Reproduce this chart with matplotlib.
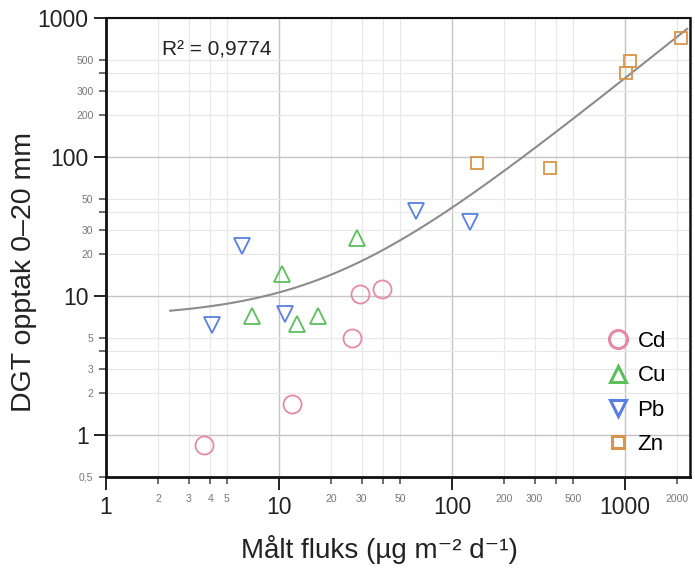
import numpy as np
import matplotlib
matplotlib.use("Agg")
import matplotlib.pyplot as plt
from matplotlib.ticker import FixedLocator, FuncFormatter

plt.rcParams['font.family'] = ['Liberation Sans', 'DejaVu Sans']

# measured flux (x) and DGT uptake (y) per metal
cd_x = [3.7, 11.9, 26.4, 29.4, 39.4]
cd_y = [0.85, 1.67, 5.0, 10.3, 11.2]
cu_x = [10.4, 7.0, 12.7, 16.8, 28.2]
cu_y = [14.4, 7.2, 6.3, 7.2, 26.1]
pb_x = [6.1, 4.1, 10.8, 61.9, 127]
pb_y = [22.9, 6.2, 7.4, 40.9, 34.1]
zn_x = [140, 368, 1013, 1069, 2108]
zn_y = [90.5, 83.4, 402, 491, 718]

r2_text = "R² = 0,9774"

major_ticks = [1, 10, 100, 1000]
minor_ticks = [v * 10.0 ** e for e in range(-1, 4) for v in (2, 3, 4, 5)]
x_small = [2, 3, 4, 5, 20, 30, 50, 200, 300, 500, 2000]
y_small = [0.5, 2, 3, 5, 20, 30, 50, 200, 300, 500]

# linear trend line (y = a + b*x) through all points
all_x = np.array(cd_x + cu_x + pb_x + zn_x)
all_y = np.array(cd_y + cu_y + pb_y + zn_y)
b, a = np.polyfit(all_x, all_y, 1)

fig = plt.figure(figsize=(6.95, 5.7), dpi=100)
ax = fig.add_axes([0.1525, 0.1632, 0.8403, 0.8052])
ax.set_xscale('log')
ax.set_yscale('log')
ax.set_xlim(1, 2375)
ax.set_ylim(0.5, 1000)

ax.grid(True, which='major', color='#c4c4c4', lw=1.0)
ax.grid(True, which='minor', color='#e8e8e8', lw=0.9)
ax.set_axisbelow(True)

fx = np.geomspace(2.35, 2290, 200)
ax.plot(fx, a + b * fx, color='#8c8c8c', lw=1.5, zorder=2)

ax.plot(cd_x, cd_y, 'o', ms=13, mfc='none', mec='#e48aa8', mew=1.3, label='Cd', zorder=3)
ax.plot(cu_x, cu_y, '^', ms=12, mfc='none', mec='#5cbf5c', mew=1.3, label='Cu', zorder=3)
ax.plot(pb_x, pb_y, 'v', ms=12, mfc='none', mec='#5b7fe0', mew=1.3, label='Pb', zorder=3)
ax.plot(zn_x, zn_y, 's', ms=9, mfc='none', mec='#d9954a', mew=1.3, label='Zn', zorder=3)

ax.text(0.096, 0.931, r2_text, transform=ax.transAxes, fontsize=15, color='#222222',
        va='center', ha='left')

# ticks
for axis, small in ((ax.xaxis, x_small), (ax.yaxis, y_small)):
    axis.set_major_locator(FixedLocator(major_ticks))
    axis.set_minor_locator(FixedLocator(minor_ticks))
    axis.set_major_formatter(FuncFormatter(lambda v, p: '%g' % v))
    axis.set_minor_formatter(FuncFormatter(
        lambda v, p, s=small: ('%g' % v).replace('.', ',') if any(abs(v - t) < 1e-6 * t for t in s) else ''))
ax.tick_params(which='major', length=9, width=1.3, labelsize=16.5, colors='#111111',
               labelcolor='#222222')
ax.tick_params(which='minor', length=5, width=1.1, labelsize=7.5, colors='#444444',
               labelcolor='#777777')
ax.tick_params(axis='x', which='major', pad=5)
ax.tick_params(axis='x', which='minor', pad=7)
ax.tick_params(axis='y', which='minor', pad=4)

for s in ax.spines.values():
    s.set_color('#111111')
ax.spines['left'].set_linewidth(2)
ax.spines['bottom'].set_linewidth(2)
ax.spines['top'].set_linewidth(1.5)
ax.spines['right'].set_linewidth(1.8)

ax.set_xlabel('Målt fluks (µg m⁻² d⁻¹)', fontsize=20, color='#222222')
ax.set_ylabel('DGT opptak 0–20 mm', fontsize=20.5, color='#222222')
ax.xaxis.set_label_coords(0.469, -0.127)
ax.yaxis.set_label_coords(-0.118, 0.447)

leg = ax.legend(loc='lower right', bbox_to_anchor=(0.993, 0.004), frameon=False,
                fontsize=16, handletextpad=0.3, handlelength=1.2, labelspacing=0.6,
                borderaxespad=0.5)
for h in leg.legend_handles:
    h.set_markeredgewidth(2.2)

fig.savefig('out.png', dpi=100)
